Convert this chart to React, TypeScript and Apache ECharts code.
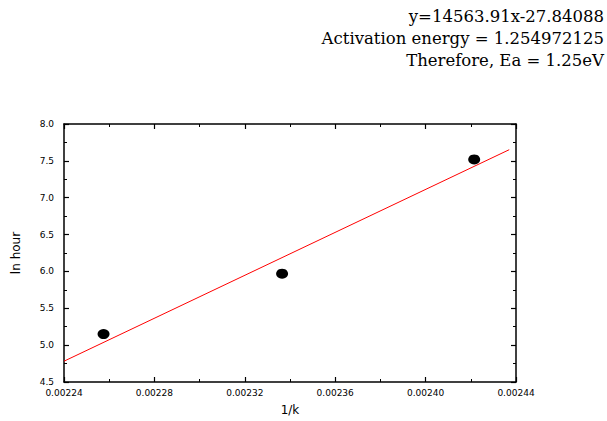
import React, { useEffect, useRef } from "react";
import * as echarts from "echarts";

const xValues = [0.0022575, 0.0023365, 0.0024215];
const yValues = [5.15, 5.97, 7.52];
const slope = 14563.91;
const intercept = -27.84088;
const fitRange = [0.00224, 0.002437];
const annotationLines = [
  "y=14563.91x-27.84088",
  "Activation energy = 1.254972125",
  "Therefore, Ea = 1.25eV",
];

export default function App() {
  const ref = useRef<HTMLDivElement>(null);
  useEffect(() => {
    if (!ref.current) return;
    const chart = echarts.init(ref.current, null, { renderer: "svg" });
    const fitData = fitRange.map((x) => [x, slope * x + intercept]);
    const sans = "'DejaVu Sans', sans-serif";
    const tickFont = { fontFamily: sans, fontSize: 9, color: "#000" };
    const axisLine = { show: true, lineStyle: { color: "#000", width: 1.5 } };
    const axisTick = { show: true, inside: true, length: 5, lineStyle: { color: "#000", width: 1.2 } };
    const minorTick = { show: true, splitNumber: 2, length: 3, lineStyle: { color: "#000", width: 1 } };
    chart.setOption({
      animation: false,
      backgroundColor: "#fff",
      grid: { left: 64, right: 91, top: 124, bottom: 35 },
      graphic: annotationLines.map((t, i) => ({
        type: "text",
        right: 3,
        top: 8 + i * 22,
        style: {
          text: t,
          fill: "#000",
          font: "16.5px 'DejaVu Serif', serif",
          textAlign: "right",
        },
      })),
      xAxis: [
        {
          type: "value",
          min: 0.00224,
          max: 0.00244,
          interval: 0.00004,
          name: "1/k",
          nameLocation: "middle",
          nameGap: 22,
          nameTextStyle: { fontFamily: sans, fontSize: 12, color: "#000" },
          axisLine,
          axisTick,
          minorTick,
          splitLine: { show: false },
          axisLabel: { ...tickFont, margin: 6, formatter: (v: number) => v.toFixed(5) },
        },
        {
          type: "value",
          position: "top",
          min: 0.00224,
          max: 0.00244,
          interval: 0.00004,
          axisLine,
          axisTick,
          minorTick,
          splitLine: { show: false },
          axisLabel: { show: false },
        },
      ],
      yAxis: [
        {
          type: "value",
          min: 4.5,
          max: 8,
          interval: 0.5,
          name: "ln hour",
          nameLocation: "middle",
          nameGap: 42,
          nameTextStyle: { fontFamily: sans, fontSize: 12, color: "#000" },
          axisLine,
          axisTick,
          minorTick,
          splitLine: { show: false },
          axisLabel: { ...tickFont, margin: 10, formatter: (v: number) => v.toFixed(1) },
        },
        {
          type: "value",
          position: "right",
          min: 4.5,
          max: 8,
          interval: 0.5,
          axisLine,
          axisTick,
          minorTick,
          splitLine: { show: false },
          axisLabel: { show: false },
        },
      ],
      series: [
        {
          type: "line",
          data: fitData,
          symbol: "none",
          lineStyle: { color: "#ff0000", width: 1 },
          z: 2,
        },
        {
          type: "scatter",
          data: xValues.map((x, i) => [x, yValues[i]]),
          symbol: "circle",
          symbolSize: [12, 10],
          itemStyle: { color: "#000", opacity: 1 },
          z: 3,
        },
      ],
    });
    return () => chart.dispose();
  }, []);
  return <div ref={ref} style={{ width: 607, height: 421, position: "absolute", left: 0, top: 0 }} />;
}
